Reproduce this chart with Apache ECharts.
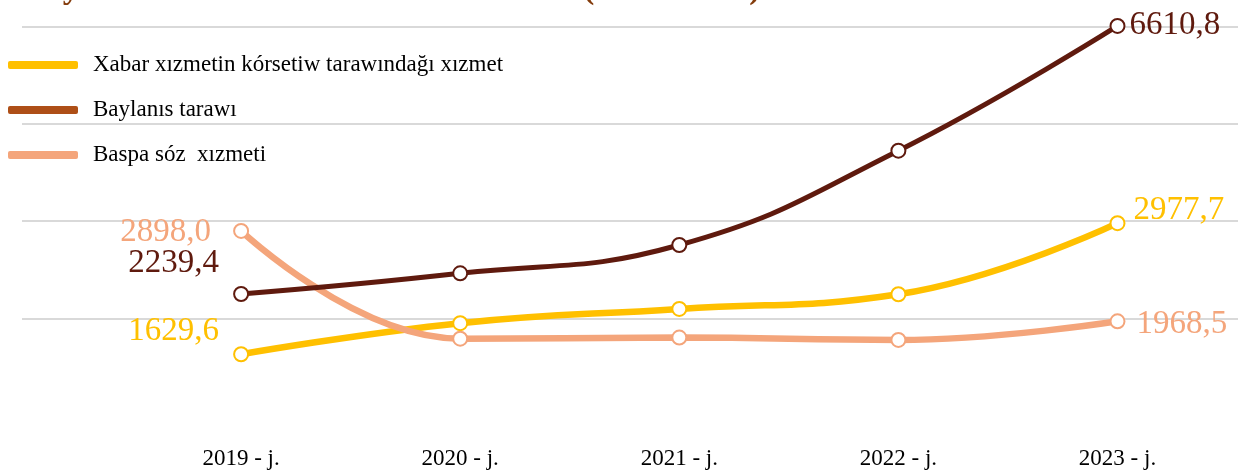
<!DOCTYPE html>
<html>
<head>
<meta charset="utf-8">
<script src="https://cdn.jsdelivr.net/npm/echarts@6/dist/echarts.min.js"></script>
<style>
  html, body { margin: 0; padding: 0; background: #fff; }
  #chart { width: 1238px; height: 473px; }
</style>
</head>
<body>
<div id="chart"></div>
<script>
// years on the x axis
const years = ['2019 - j.', '2020 - j.', '2021 - j.', '2022 - j.', '2023 - j.']
// series names (legend)
const names = ['Xabar xızmetin kórsetiw tarawındağı xızmet', 'Baylanıs tarawı', 'Baspa sóz  xızmeti']
const xabar = [1629.6, 1949, 2096, 2247, 2977.7]
const baylanis = [2239.4, 2577, 3039, 4577, 6610.8]
const baspa = [2898.0, 1790, 1801, 1777, 1968.5]

const colors = ['#FFC000', '#5F1A0E', '#F4A57B']
const legendColors = ['#FFC000', '#AE4F17', '#F4A57B']

// label placement for the first / last point of each series
const labelPos = [
  { first: { distance: 14, offset: [0, -23] }, last: { distance: 8, offset: [0, -13] } },
  { first: { distance: 14, offset: [0, -31] }, last: { distance: 4, offset: [0, -1] } },
  { first: { distance: 22, offset: [0, 1] }, last: { distance: 11, offset: [0, 3] } }
]

function fmt(v) {
  return v.toFixed(1).replace('.', ',')
}

function buildData(values, idx) {
  return values.map((v, i) => {
    const item = { value: [i, v] }
    if (i === 0 || i === values.length - 1) {
      const p = i === 0 ? labelPos[idx].first : labelPos[idx].last
      item.label = {
        show: true,
        position: i === 0 ? 'left' : 'right',
        distance: p.distance,
        offset: p.offset,
        formatter: fmt(v),
        color: colors[idx],
        fontFamily: 'Liberation Serif',
        fontSize: 33
      }
    }
    return item
  })
}

const lineWidths = [6.5, 5, 6.5]
const series = [xabar, baylanis, baspa].map((vals, idx) => ({
  name: names[idx],
  type: 'line',
  yAxisIndex: idx === 1 ? 1 : 0,
  smooth: 0.45,
  clip: false,
  symbol: 'emptyCircle',
  symbolSize: 14,
  color: colors[idx],
  lineStyle: { width: lineWidths[idx], color: colors[idx] },
  itemStyle: { color: colors[idx], borderWidth: 2 },
  z: idx === 1 ? 3 : 2,
  data: buildData(vals, idx)
}))

const chart = echarts.init(document.getElementById('chart'))
chart.setOption({
  animation: false,
  title: {
    text: 'Baylanıs hám xabar xızmetleri kólemi (mlrd. swm)',
    left: 18,
    top: -33,
    textStyle: { fontFamily: 'Liberation Serif', fontWeight: 'bold', fontSize: 34, color: '#843C0C' }
  },
  legend: {
    orient: 'vertical',
    left: 3,
    top: 47,
    icon: 'roundRect',
    itemWidth: 70,
    itemHeight: 8,
    itemGap: 19,
    itemStyle: { borderWidth: 0 },
    textStyle: {
      fontFamily: 'Liberation Serif',
      fontSize: 23,
      lineHeight: 26,
      color: '#000',
      padding: [0, 0, 0, 10]
    },
    data: names.map((n, i) => ({ name: n, itemStyle: { color: legendColors[i], borderWidth: 0 } }))
  },
  grid: { left: 22, right: 0, top: 26.5, bottom: 57.5 },
  xAxis: {
    type: 'value',
    min: -1,
    max: 4.55,
    interval: 1,
    axisLine: { show: false },
    axisTick: { show: false },
    splitLine: { show: false },
    axisLabel: {
      showMinLabel: false,
      showMaxLabel: false,
      margin: 32,
      fontFamily: 'Liberation Serif',
      fontSize: 23,
      color: '#000',
      formatter: v => years[v] || ''
    }
  },
  yAxis: [
    {
      type: 'value',
      min: 1000,
      max: 5000,
      interval: 1000,
      axisLine: { show: false },
      axisTick: { show: false },
      axisLabel: { show: false },
      splitLine: { show: true, showMinLine: false, lineStyle: { color: '#D9D9D9', width: 2 } }
    },
    {
      type: 'value',
      min: 258,
      max: 6602,
      show: false,
      splitLine: { show: false }
    }
  ],
  series: series
})
</script>
</body>
</html>
